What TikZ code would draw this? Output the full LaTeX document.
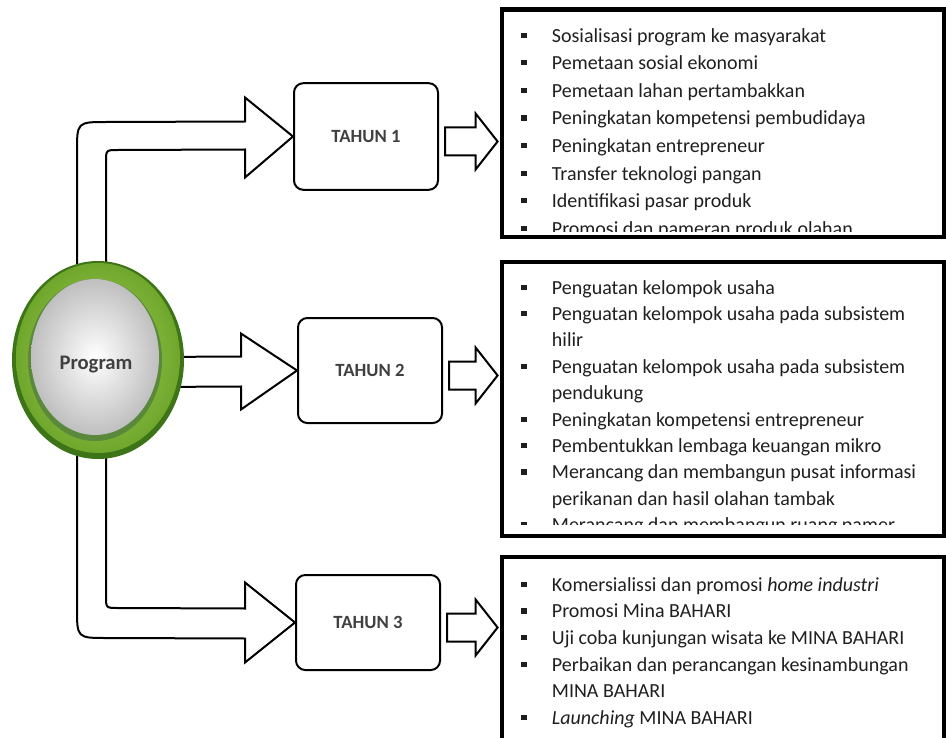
\documentclass[tikz,border=0pt]{standalone}
\usepackage{fontspec}
\setmainfont{Carlito}
\usetikzlibrary{calc,shapes.geometric}
\definecolor{ringgreen}{HTML}{6FA72C}
\definecolor{ringdark}{HTML}{3D7418}
\definecolor{ringlight}{HTML}{A2CF55}
\definecolor{labelgray}{HTML}{404040}
\newcommand{\bul}{\makebox[23pt][l]{\raisebox{3.2pt}{\rule{4pt}{4pt}}}}
\newcommand{\cont}{\hspace*{23pt}}
\begin{document}
\begin{tikzpicture}[x=0.75pt,y=-0.75pt,line join=miter,
  barrow/.style={draw=black,fill=white,line width=1.5pt},
  yearbox/.style={draw=black,line width=1.5pt,rounded corners=7pt,minimum width=108pt,
    font=\fontsize{14}{16}\selectfont\bfseries,text=labelgray},
  listbox/.style={draw=black,line width=3.6pt,inner sep=0pt,minimum width=331.5pt},
  listtext/.style={anchor=north west,inner sep=0pt,align=left,text=black!88}]
\path[use as bounding box] (0,0) rectangle (946,738);
\clip (0,0) rectangle (946,738);
\node[yearbox,minimum height=80pt] (th1) at (366,136.5) {TAHUN 1};
\node[yearbox,minimum height=78.75pt] (th2) at (370,370.5) {TAHUN 2};
\node[yearbox,minimum height=71.25pt] (th3) at (368,622.5) {TAHUN 3};
\node[listbox,minimum height=170.6pt] (k1) at (723,123.25) {};
\node[listbox,minimum height=205.5pt] (k2) at (723,399) {};
\node[listbox,minimum height=138pt] (k3) at (723,649) {};
\draw[barrow] (77,300) -- (77,152) .. controls (77,122) .. (107,122)
  -- ($(th1.west)+(-48,-15)$) -- ($(th1.west)+(-48,-39)$) -- (th1.west)
  -- ($(th1.west)+(-48,41)$) -- ($(th1.west)+(-48,13)$)
  -- (118,150) .. controls (106,150) .. (106,162) -- (106,300);
\draw[barrow] (150,357) -- ($(th2.west)+(-56,-14)$) -- ($(th2.west)+(-56,-37)$) -- (th2.west)
  -- ($(th2.west)+(-56,39)$) -- ($(th2.west)+(-56,16)$) -- (150,387);
\draw[barrow] (77,420) -- (77,608) .. controls (77,638) .. (107,638)
  -- ($(th3.west)+(-50,16)$) -- ($(th3.west)+(-50,40)$) -- (th3.west)
  -- ($(th3.west)+(-50,-40)$) -- ($(th3.west)+(-50,-14)$)
  -- (118,608) .. controls (106,608) .. (106,596) -- (106,420);
\foreach \i in {1,2,3}
  \draw[barrow] ($(th\i.east)+(6,-9)$) -- ($(th\i.east -| k\i.west)+(-24,-9)$)
    -- ($(th\i.east -| k\i.west)+(-24,-23)$) -- ($(th\i.east -| k\i.west)+(-2,5)$)
    -- ($(th\i.east -| k\i.west)+(-24,33)$) -- ($(th\i.east -| k\i.west)+(-24,19)$)
    -- ($(th\i.east)+(6,19)$) -- cycle;
\fill[ringdark] (98,360) ellipse [x radius=86,y radius=99];
\shade[inner color=ringlight,outer color=ringgreen] (98,358) ellipse [x radius=82,y radius=95];
\fill[ringdark!85] (95,360) ellipse [x radius=67,y radius=81];
\shade[inner color=white,outer color=black!25] (95,357) ellipse [x radius=64,y radius=78];
\node[font=\fontsize{15.5}{17}\selectfont\bfseries,text=black!75] (prog) at (96,365) {Program};
\begin{scope}
\clip (k1.north west) rectangle ($(k1.south east)+(0,-8)$);
\node[listtext,font=\fontsize{15}{20.7}\selectfont] (t1) at (521,28) {\bul Sosialisasi program ke masyarakat\\
\bul Pemetaan sosial ekonomi\\
\bul Pemetaan lahan pertambakkan\\
\bul Peningkatan kompetensi pembudidaya\\
\bul Peningkatan entrepreneur\\
\bul Transfer teknologi pangan\\
\bul Identifikasi pasar produk\\
\bul Promosi dan pameran produk olahan};
\end{scope}
\begin{scope}
\clip (k2.north west) rectangle ($(k2.south east)+(0,-14)$);
\node[listtext,font=\fontsize{15}{19.8}\selectfont] (t2) at (521,280) {\bul Penguatan kelompok usaha\\
\bul Penguatan kelompok usaha pada subsistem\\
\cont hilir\\
\bul Penguatan kelompok usaha pada subsistem\\
\cont pendukung\\
\bul Peningkatan kompetensi entrepreneur\\
\bul Pembentukkan lembaga keuangan mikro\\
\bul Merancang dan membangun pusat informasi\\
\cont perikanan dan hasil olahan tambak\\
\bul Merancang dan membangun ruang pamer};
\end{scope}
\node[listtext,font=\fontsize{15}{20}\selectfont] (t3) at (521,577) {\bul Komersialissi dan promosi \textit{home industri}\\
\bul Promosi Mina BAHARI\\
\bul Uji coba kunjungan wisata ke MINA BAHARI\\
\bul Perbaikan dan perancangan kesinambungan\\
\cont MINA BAHARI\\
\bul \textit{Launching} MINA BAHARI};
\end{tikzpicture}
\end{document}
